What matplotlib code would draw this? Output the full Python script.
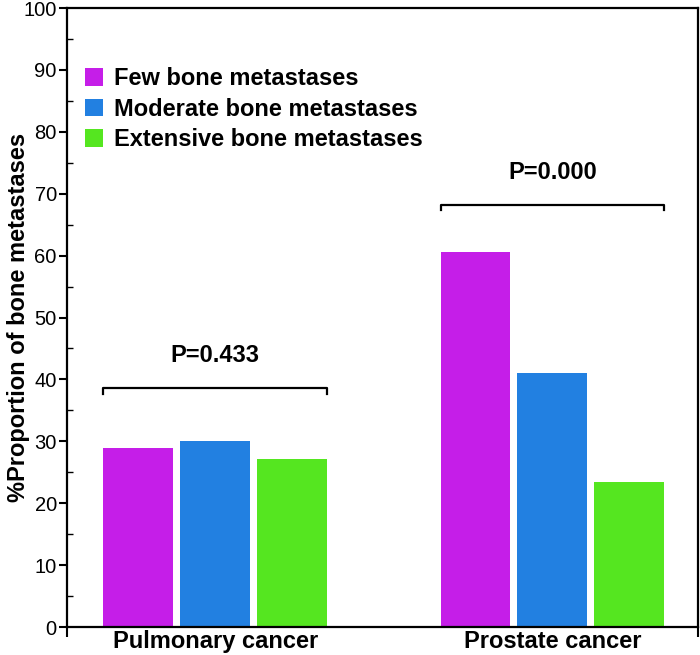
import numpy as np
import matplotlib.pyplot as plt
from matplotlib.patches import Patch

plt.rcParams['font.family'] = ['Liberation Sans', 'DejaVu Sans']

# ---------------------------------------------------------------
# Data
# ---------------------------------------------------------------
groups = ['Pulmonary cancer', 'Prostate cancer']
series = ['Few bone metastases', 'Moderate bone metastases', 'Extensive bone metastases']
few = [29.0, 60.6]
moderate = [30.0, 41.1]
extensive = [27.1, 23.4]
p_labels = ['P=0.433', 'P=0.000']
p_bracket_y = [38.6, 68.2]

colors = ['#C51EE8', '#2280E1', '#55E620']

# ---------------------------------------------------------------
# Plot
# ---------------------------------------------------------------
fig = plt.figure(figsize=(7.0, 6.55), dpi=100)
ax = fig.add_axes([0.095, 0.0427, 0.902, 0.945])

x = np.arange(len(groups))
width = 0.207
step = 0.228
for i, (vals, c, lab) in enumerate(zip([few, moderate, extensive], colors, series)):
    ax.bar(x + (i - 1) * step, vals, width=width, color=c, label=lab)

# significance brackets over each group
for xi, yb, txt in zip(x, p_bracket_y, p_labels):
    x0, x1 = xi - step - width / 2, xi + step + width / 2
    ax.plot([x0, x0, x1, x1], [yb - 0.9, yb, yb, yb - 0.9], color='black', lw=1.6)
    ax.text((x0 + x1) / 2, yb + 5.2, txt, ha='center', va='center',
            fontsize=17, fontweight='bold')

ax.set_xlim(-0.441, 1.432)
ax.set_ylim(0, 100)
ax.set_yticks(np.arange(0, 101, 10))
ax.set_yticks(np.arange(5, 100, 10), minor=True)
ax.set_xticks(x)
ax.set_xticklabels(groups, fontsize=17, fontweight='bold')
ax.set_xticks([-0.441, 1.432], minor=True)
ax.tick_params(axis='x', which='major', length=0, pad=2)
ax.tick_params(axis='x', which='minor', length=7, width=1.5)
ax.tick_params(axis='y', which='major', length=6, width=1.5, labelsize=14.5, pad=1)
ax.tick_params(axis='y', which='minor', length=4, width=1.0, direction='in')
for sp in ax.spines.values():
    sp.set_linewidth(1.6)

ax.set_ylabel('%Proportion of bone metastases', fontsize=17, fontweight='bold')
ax.yaxis.set_label_coords(-0.058, 0.5)

handles = [Patch(facecolor=c, label=s) for c, s in zip(colors, series)]
ax.legend(handles=handles, loc='upper left', bbox_to_anchor=(0.0, 0.935),
          frameon=False, prop={'size': 17, 'weight': 'bold'},
          handlelength=0.75, handleheight=0.75, handletextpad=0.45,
          labelspacing=0.32, borderaxespad=0.4)

fig.savefig('out.png', dpi=100)
